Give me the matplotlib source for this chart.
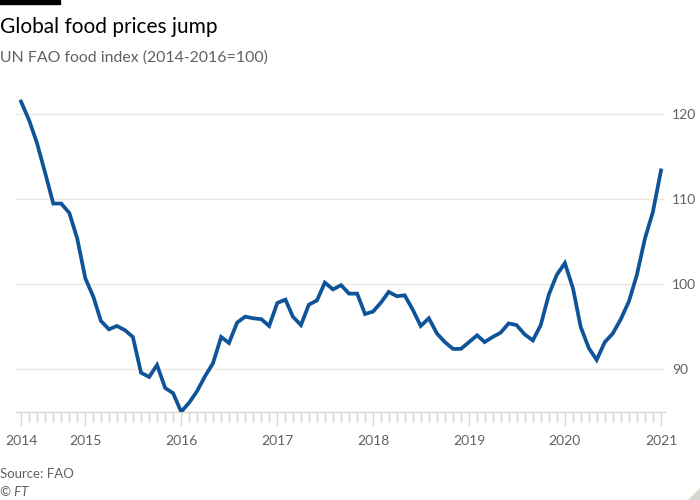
import matplotlib
matplotlib.use("Agg")
import matplotlib.pyplot as plt
import matplotlib.dates as mdates
import pandas as pd
import numpy as np

plt.rcParams['font.family'] = ['Lato', 'DejaVu Sans']

# Data: UN FAO food price index, monthly from May 2014 to Jan 2021
start_month = "2014-05-01"
index_values = [
    121.5, 119.3, 116.6, 113.1, 109.5, 109.5, 108.4, 105.4,   # May-Dec 2014
    100.7, 98.5, 95.7, 94.7, 95.1, 94.6, 93.8, 89.6, 89.1, 90.5, 87.8, 87.2,  # 2015
    85.0, 86.1, 87.4, 89.2, 90.7, 93.8, 93.1, 95.5, 96.2, 96.0, 95.9, 95.1,  # 2016
    97.8, 98.2, 96.2, 95.2, 97.6, 98.1, 100.2, 99.4, 99.9, 98.9, 98.9, 96.5,  # 2017
    96.8, 97.9, 99.1, 98.6, 98.7, 97.0, 95.1, 96.0, 94.2, 93.2, 92.4, 92.4,  # 2018
    93.2, 94.0, 93.2, 93.8, 94.3, 95.4, 95.2, 94.1, 93.4, 95.2, 98.8, 101.1,  # 2019
    102.5, 99.5, 95.0, 92.5, 91.1, 93.2, 94.2, 95.9, 98.0, 101.1, 105.4, 108.5,  # 2020
    113.4,  # Jan 2021
]
y_ticks = [90, 100, 110, 120]
x_label_years = ["2014", "2015", "2016", "2017", "2018", "2019", "2020", "2021"]

dates = pd.date_range(start_month, periods=len(index_values), freq="MS")

fig = plt.figure(figsize=(7, 5), dpi=100)
ax = fig.add_axes([16/700, 1-412.3/500, (665-16)/700, (412.3-95)/500])

FT_BLUE = "#0f5499"
GRID = "#f0e6dc"
TICK = "#ddd3ca"
TXT = "#66605c"

ax.plot(dates, index_values, color=FT_BLUE, lw=2.7, solid_joinstyle="miter", zorder=3)

month_w = pd.Timedelta(days=30.4)
ax.set_xlim(dates[0] - 0.625 * month_w, dates[-1] + 0.5 * month_w)
ax.set_ylim(84.94, 122.27)

ax.yaxis.tick_right()
ax.set_yticks(y_ticks)
ax.set_yticklabels([str(v) for v in y_ticks])
ax.tick_params(axis="y", length=0, pad=5, labelsize=10, labelcolor=TXT)
ax.grid(axis="y", color=GRID, lw=1, zorder=0)

major_pos = [dates[0]] + [d for d in dates if d.month == 1]
ax.set_xticks(major_pos)
ax.set_xticklabels(x_label_years)
ax.set_xticks(list(dates), minor=True)
ax.tick_params(axis="x", which="major", length=10, width=1, color=TICK,
               pad=6, labelsize=10, labelcolor=TXT)
ax.tick_params(axis="x", which="minor", length=7, width=1, color=TICK)

for s in ["top", "right", "left"]:
    ax.spines[s].set_visible(False)
ax.spines["bottom"].set_color(TICK)
ax.spines["bottom"].set_linewidth(1)

# Header
fig.patches.append(plt.Rectangle((0, 1-4/500), 60/700, 4/500, transform=fig.transFigure,
                                 color="black", zorder=5))
fig.text(0, 1-33/500, "Global food prices jump", fontsize=15, color="#000000",
         ha="left", va="baseline")
fig.text(0, 1-62/500, "UN FAO food index (2014-2016=100)", fontsize=11.4, color=TXT,
         ha="left", va="baseline")
fig.text(0, 1-478/500, "Source: FAO", fontsize=9.5, color=TXT, ha="left", va="baseline")
fig.text(0, 1-496/500, "© FT", fontsize=9.5, color=TXT, ha="left", va="baseline",
         style="italic")

# small corner mark at bottom-right
fig.patches.append(plt.Polygon([(1, 1-488/500), (1, 0), (1-12/700, 0)], closed=True,
                               transform=fig.transFigure, color="#d8d4d0", zorder=5))

fig.savefig("out.png", dpi=100, facecolor="white")
